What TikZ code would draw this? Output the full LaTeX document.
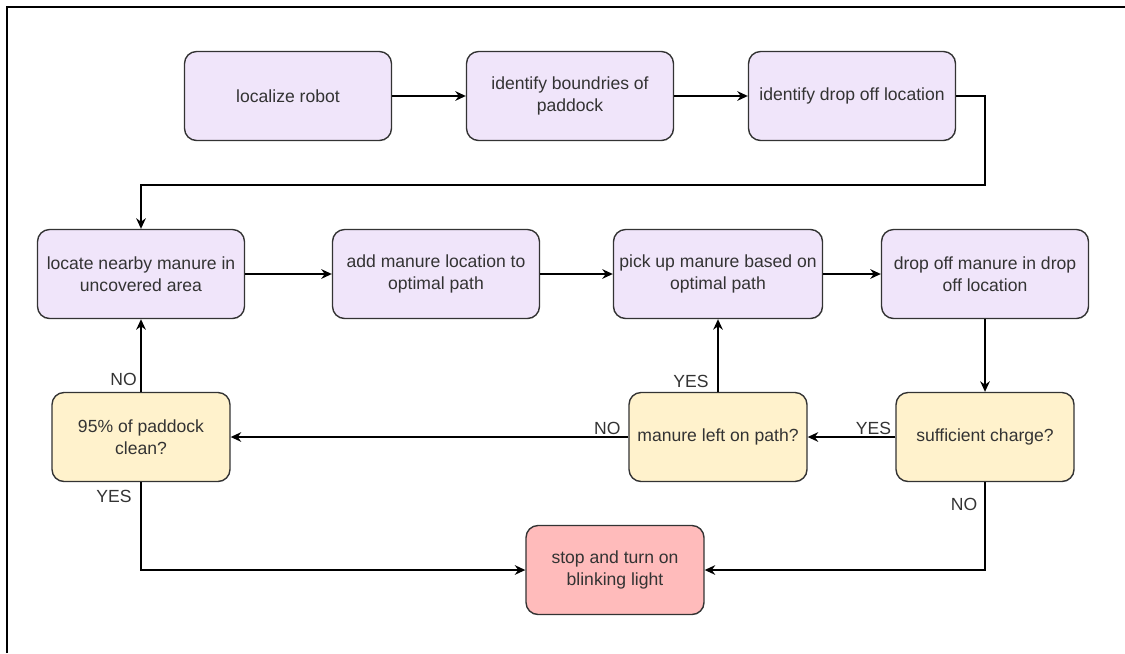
\documentclass[tikz,border=0pt]{standalone}
\usepackage{fontspec}
\setmainfont{Liberation Sans}
\usetikzlibrary{positioning}
\usetikzlibrary{arrows.meta}
\definecolor{lilac}{RGB}{240,229,250}
\definecolor{cream}{RGB}{255,242,204}
\definecolor{rose}{RGB}{255,187,187}
\definecolor{ink}{RGB}{51,51,51}

\begin{document}
\begin{tikzpicture}[x=0.02cm,y=-0.02cm]
	\tikzstyle{task}=[rectangle, rounded corners=0.24cm, draw=ink, line width=0.8pt, fill=lilac, minimum width=4.14cm, minimum height=1.78cm, align=center, text=ink, font=\fontsize{10}{12.5}\selectfont]
	\tikzstyle{check}=[task, fill=cream, minimum width=3.56cm]
	\tikzstyle{halt}=[task, fill=rose, minimum width=3.56cm]
	\tikzstyle{flow}=[-{Stealth[length=6pt,width=5.5pt]}, line width=0.8pt, black]
	\tikzstyle{answer}=[text=ink, font=\fontsize{10}{12}\selectfont, inner sep=1pt]
	
	\useasboundingbox (0,0) rectangle (1125,653);
	\draw [line width=0.8pt] (7,653) -- (7,7) -- (1125,7);
	
	% first row
	\node at (288, 96) [task] (loc) {localize robot};
	\node at (570, 96) [task] (bnd) {identify boundries of\\paddock};
	\node at (852, 96) [task] (dol) {identify drop off location};
	
	% second row
	\node at (141, 274) [task] (near) {locate nearby manure in\\uncovered area};
	\node at (436, 274) [task] (add) {add manure location to\\optimal path};
	\node at (718, 274) [task] (pick) {pick up manure based on\\optimal path};
	\node at (985, 274) [task] (drop) {drop off manure in drop\\off location};
	
	\draw [flow] (loc) -- (bnd);
	\draw [flow] (bnd) -- (dol);
	\coordinate (turn) at (985,185);
	\draw [flow] (dol.east) -| (turn) -| (near.north);
	
	\draw [flow] (near) -- (add);
	\draw [flow] (add) -- (pick);
	\draw [flow] (pick) -- (drop);
	
	% checks
	\node at (141, 437) [check] (clean) {95\% of paddock\\clean?};
	\node at (718, 437) [check] (left) {manure left on path?};
	\node at (985, 437) [check] (charge) {sufficient charge?};
	\node at (615, 570) [halt] (stop) {stop and turn on\\blinking light};
	
	\draw [flow] (drop) -- (charge);
	\draw [flow] (charge) -- node[pos=0, anchor=south east, answer, xshift=-1pt] (yesA) {YES} (left);
	\draw [flow] (left) -- node[pos=0, anchor=south east, answer, xshift=-4pt, yshift=1pt] (yesB) {YES} (pick);
	\draw [flow] (left) -- node[pos=0, anchor=south east, answer, xshift=-3pt] (noA) {NO} (clean);
	\draw [flow] (clean) -- node[pos=0, anchor=south east, answer, xshift=-1pt, yshift=2pt] (noB) {NO} (near);
	\draw [flow] (clean.south) |- node[pos=0, anchor=north east, answer, xshift=-4pt, yshift=-3pt] (yesC) {YES} (stop.west);
	\draw [flow] (charge.south) |- node[pos=0, anchor=north east, answer, xshift=-3pt, yshift=-8pt] (noC) {NO} (stop.east);
\end{tikzpicture}
\end{document}
